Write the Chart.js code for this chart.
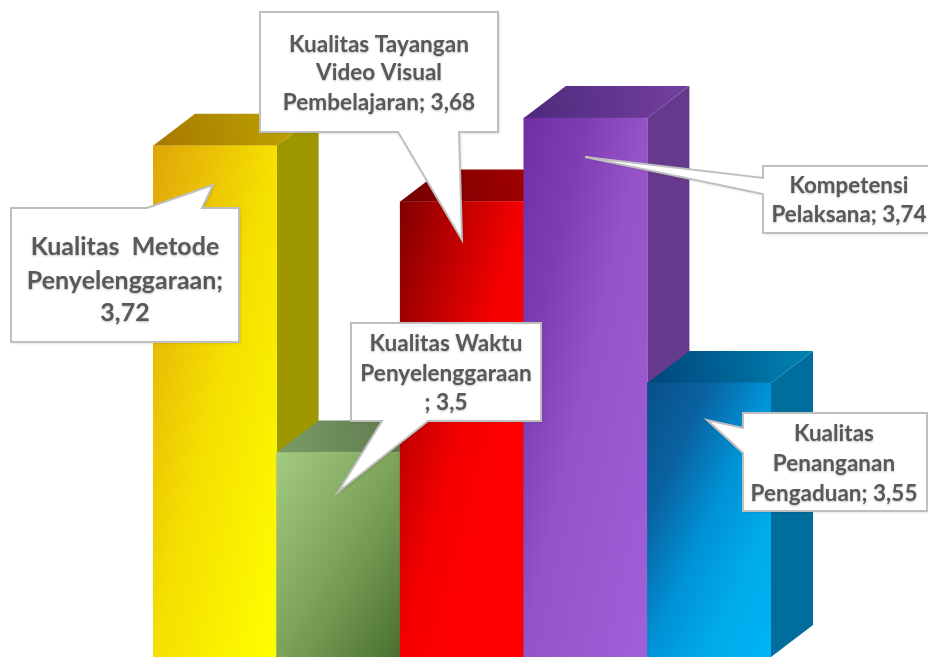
<!DOCTYPE html>
<html>
<head>
<meta charset="utf-8">
<style>
  body { margin: 0; background: #fff; }
  canvas { display: block; }
</style>
<script src="https://cdn.jsdelivr.net/npm/chart.js@4"></script>
</head>
<body>
<canvas id="myChart" width="928" height="657"></canvas>
<script>
// data
const categories = [
  "Kualitas Metode Penyelenggaraan",
  "Kualitas Waktu Penyelenggaraan",
  "Kualitas Tayangan Video Visual Pembelajaran",
  "Kompetensi Pelaksana",
  "Kualitas Penanganan Pengaduan"
]
const values = [3.72, 3.5, 3.68, 3.74, 3.55]
const labelLines = [
  ["Kualitas  Metode", "Penyelenggaraan;", "3,72"],
  ["Kualitas Waktu", "Penyelenggaraan", "; 3,5"],
  ["Kualitas Tayangan", "Video Visual", "Pembelajaran; 3,68"],
  ["Kompetensi", "Pelaksana; 3,74"],
  ["Kualitas", "Penanganan", "Pengaduan; 3,55"]
]

// front face colour stops, corner to corner
const frontColors = [
  [[0, "#e0a50a"], [0.5, "#f5e000"], [1, "#ffff00"]],
  [[0, "#a3cb80"], [0.5, "#7da35a"], [1, "#4a7030"]],
  [[0, "#800000"], [0.3, "#c80000"], [0.5, "#f40000"], [0.7, "#ff0000"], [1, "#ff0000"]],
  [[0, "#6f2fa3"], [0.25, "#7f3db2"], [0.5, "#9553c8"], [1, "#a060d8"]],
  [[0, "#08508a"], [0.25, "#0a62a0"], [0.5, "#0092d6"], [0.75, "#00aceb"], [1, "#00b4f4"]]
]
const topColors = [
  ["#a87800", "#c0aa00"],
  ["#7a9c68", "#566f45"],
  ["#720000", "#b00000"],
  ["#4c2a7c", "#74409f"],
  ["#00457a", "#0084b4"]
]
const sideColors = ["#9e9700", "#4f6f38", "#900000", "#653a8c", "#006e9c"]

const depthX = 42
const depthY = 32

// callout boxes, box = [left, top, right, bottom], pointer = [base1, tip, base2]
const callouts = [
  {box: [11, 208, 239, 342], pointer: [[147, 208], [213, 185], [202, 208]], edge: "top", cx: 125, ys: [247, 281, 313], size: 25},
  {box: [351, 323, 541, 421], pointer: [[428, 421], [338, 492], [382, 421]], edge: "bottom", cx: 446, ys: [344, 374, 403], size: 22.6},
  {box: [260, 12, 498, 132], pointer: [[459, 132], [462, 240], [398, 132]], edge: "bottom", cx: 379, ys: [45, 73, 103], size: 22.6},
  {box: [763, 166, 932, 233], pointer: [[763, 194], [585, 157], [763, 178]], edge: "left", cx: 849, ys: [186, 215], size: 22.4},
  {box: [743, 413, 927, 511], pointer: [[743, 453], [707, 420], [743, 428]], edge: "left", cx: 834, ys: [434, 464, 494], size: 22.5}
]
const calloutOrder = [0, 2, 1, 3, 4]

function frontGradient(ctx){
  const chart = ctx.chart
  const i = ctx.dataIndex
  if(!chart.chartArea) return frontColors[i][1][1]  // not laid out yet
  const x = chart.scales.x
  const y = chart.scales.y
  const w = x.getPixelForValue(1) - x.getPixelForValue(0)
  const left = x.getPixelForValue(i) - w / 2
  const top = y.getPixelForValue(values[i])
  const h = y.getPixelForValue(y.min) - top
  // the mid colour line runs through the other two corners
  const k = 2 * w * h / (w * w + h * h)
  const g = chart.ctx.createLinearGradient(left, top, left + h * k, top + w * k)
  frontColors[i].forEach((s) => g.addColorStop(s[0], s[1]))
  return g
}

// top and side faces go under the fronts, left to right
const depthFaces = {
  id: "depthFaces",
  beforeDatasetsDraw(chart){
    const c = chart.ctx
    chart.getDatasetMeta(0).data.forEach((bar, i) => {
      const l = bar.x - bar.width / 2
      const r = bar.x + bar.width / 2
      const t = bar.y
      const b = chart.chartArea.bottom

      c.fillStyle = sideColors[i]
      c.beginPath()
      c.moveTo(r, t)
      c.lineTo(r + depthX, t - depthY)
      c.lineTo(r + depthX, b - depthY)
      c.lineTo(r, b)
      c.closePath()
      c.fill()

      const g = c.createLinearGradient(l, t, r + depthX, t - depthY)
      g.addColorStop(0, topColors[i][0])
      g.addColorStop(1, topColors[i][1])
      c.fillStyle = g
      c.beginPath()
      c.moveTo(l, t)
      c.lineTo(l + depthX, t - depthY)
      c.lineTo(r + depthX, t - depthY)
      c.lineTo(r, t)
      c.closePath()
      c.fill()
    })
  }
}

function calloutPath(c, item){
  const [l, t, r, b] = item.box
  const [p1, tip, p2] = item.pointer
  c.beginPath()
  c.moveTo(l, t)
  if(item.edge == "top"){
    c.lineTo(p1[0], p1[1]); c.lineTo(tip[0], tip[1]); c.lineTo(p2[0], p2[1])
  }
  c.lineTo(r, t)
  c.lineTo(r, b)
  if(item.edge == "bottom"){
    c.lineTo(p1[0], p1[1]); c.lineTo(tip[0], tip[1]); c.lineTo(p2[0], p2[1])
  }
  c.lineTo(l, b)
  if(item.edge == "left"){
    c.lineTo(p1[0], p1[1]); c.lineTo(tip[0], tip[1]); c.lineTo(p2[0], p2[1])
  }
  c.closePath()
}

const calloutLabels = {
  id: "calloutLabels",
  afterDatasetsDraw(chart){
    const c = chart.ctx
    calloutOrder.forEach((n) => {
      const item = callouts[n]
      c.save()
      c.shadowColor = "rgba(0,0,0,0.2)"
      c.shadowBlur = 3
      c.shadowOffsetX = 1
      c.shadowOffsetY = 1
      c.fillStyle = "#ffffff"
      calloutPath(c, item)
      c.fill()
      c.restore()

      c.strokeStyle = "#bfbfbf"
      c.lineWidth = 2
      calloutPath(c, item)
      c.stroke()

      c.save()
      c.font = "bold " + item.size + "px Lato, 'Noto Sans', sans-serif"
      c.textAlign = "center"
      c.textBaseline = "middle"
      c.fillStyle = "#595959"
      c.shadowColor = "rgba(0,0,0,0.25)"
      c.shadowBlur = 2
      c.shadowOffsetY = 1
      labelLines[n].forEach((line, k) => {
        c.fillText(line, item.cx, item.ys[k])
      })
      c.restore()
    })
  }
}

let myChart = new Chart("myChart", {
  type: "bar",
  data: {
    labels: categories,
    datasets: [{
      data: values,
      backgroundColor: frontGradient,
      borderWidth: 0,
      barPercentage: 1,
      categoryPercentage: 1
    }]
  },
  options: {
    responsive: false,
    animation: false,
    layout: {padding: {left: 153, right: 157, top: 0, bottom: 0}},
    plugins: {legend: {display: false}, tooltip: {enabled: false}},
    scales: {
      x: {display: false},
      y: {display: false, min: 3.3534, max: 3.8246}
    }
  },
  plugins: [depthFaces, calloutLabels]
});
myChart.update()
</script>
</body>
</html>
